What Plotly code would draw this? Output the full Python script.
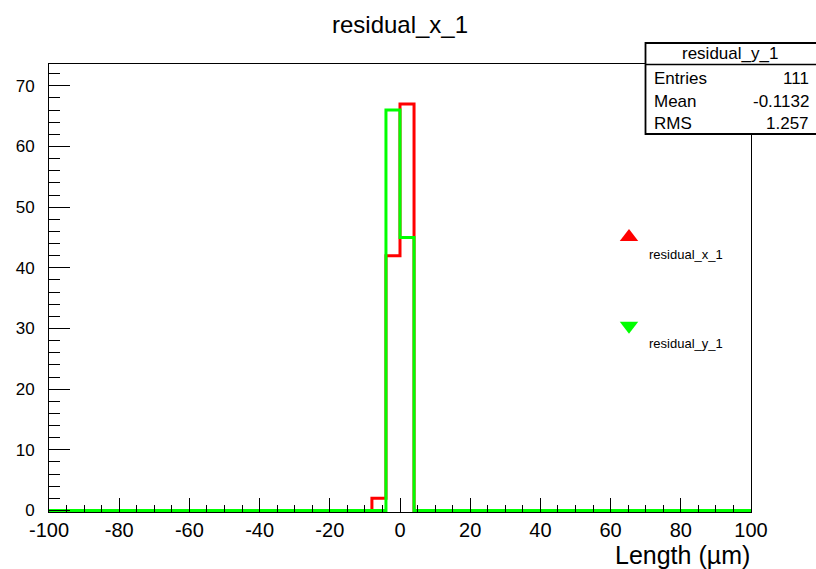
import numpy as np
import plotly.graph_objects as go

# ---- data ----
bin_edges = np.linspace(-100, 100, 51)  # 50 bins of width 4 um
counts_x = [0, 0, 0, 0, 0, 0, 0, 0, 0, 0,
            0, 0, 0, 0, 0, 0, 0, 0, 0, 0,
            0, 0, 0, 2, 42, 67, 0, 0, 0, 0,
            0, 0, 0, 0, 0, 0, 0, 0, 0, 0,
            0, 0, 0, 0, 0, 0, 0, 0, 0, 0]
counts_y = [0, 0, 0, 0, 0, 0, 0, 0, 0, 0,
            0, 0, 0, 0, 0, 0, 0, 0, 0, 0,
            0, 0, 0, 0, 66, 45, 0, 0, 0, 0,
            0, 0, 0, 0, 0, 0, 0, 0, 0, 0,
            0, 0, 0, 0, 0, 0, 0, 0, 0, 0]
x_ticks = [-100, -80, -60, -40, -20, 0, 20, 40, 60, 80, 100]
y_ticks = [0, 10, 20, 30, 40, 50, 60, 70]
series_names = ["residual_x_1", "residual_y_1"]
series_colors = ["#FF0000", "#00FF00"]
series_symbols = ["triangle-up", "triangle-down"]
stats_title = "residual_y_1"
stats_labels = ["Entries", "Mean", "RMS"]
stats_values = [str(int(sum(counts_y))), "-0.1132", "1.257"]
title_text = "residual_x_1"
x_title = "Length (µm)"

FONT = "Liberation Sans, Arial, Helvetica, sans-serif"

fig = go.Figure()

# histograms as step lines
for counts, name, color in zip([counts_x, counts_y], series_names, series_colors):
    xs = list(bin_edges)
    ys = list(counts) + [counts[-1]]
    fig.add_trace(go.Scatter(x=xs, y=ys, mode="lines", line_shape="hv",
                             line=dict(color=color, width=3),
                             showlegend=False, hoverinfo="skip"))

# legend entries (marker only)
for i, (name, color, sym) in enumerate(zip(series_names, series_colors, series_symbols)):
    fig.add_trace(go.Scatter(x=[None], y=[None], mode="markers", name="<br>" + name,
                             legendgroup=name,
                             marker=dict(symbol=sym, color=color, size=20,
                                         line=dict(width=0))))

# stats box (paper coordinates of plot area)
W, H = 816, 569
L, R, T, B = 49, 65, 64, 57
pw, ph = W - L - R, H - T - B

def px(x):
    return (x - L) / pw

def py(y):
    return (H - B - y) / ph

shapes = [
    dict(type="rect", xref="paper", yref="paper", x0=px(645.5), x1=px(830),
         y0=py(134), y1=py(43), line=dict(color="black", width=1.8),
         fillcolor="white", layer="above"),
    dict(type="line", xref="paper", yref="paper", x0=px(645.5), x1=px(830),
         y0=py(64.5), y1=py(64.5), line=dict(color="black", width=1.5), layer="above"),
]
annotations = [
    dict(text=stats_title, xref="paper", yref="paper", x=px(730), y=py(53),
         xanchor="center", yanchor="middle", showarrow=False,
         font=dict(family=FONT, size=17, color="black")),
]
row_y = [78, 101, 124]
for lab, val, yy in zip(stats_labels, stats_values, row_y):
    annotations.append(dict(text=lab, xref="paper", yref="paper", x=px(652), y=py(yy),
                            xanchor="left", yanchor="middle", showarrow=False,
                            font=dict(family=FONT, size=17, color="black")))
    annotations.append(dict(text=val, xref="paper", yref="paper", x=px(811), y=py(yy),
                            xanchor="right", yanchor="middle", showarrow=False,
                            font=dict(family=FONT, size=17, color="black")))
# x axis title
annotations.append(dict(text=x_title, xref="paper", yref="paper", x=px(752), y=0,
                        xanchor="right", yanchor="middle", yshift=-43, showarrow=False,
                        font=dict(family=FONT, size=25, color="black")))

fig.update_layout(
    width=W, height=H,
    margin=dict(l=L, r=R, t=T, b=B, pad=0),
    paper_bgcolor="white", plot_bgcolor="white",
    font=dict(family=FONT, color="black"),
    title=dict(text=title_text, x=px(400), xref="paper", xanchor="center",
               y=1 - 25 / H, yref="container", yanchor="middle",
               font=dict(family=FONT, size=24, color="black")),
    showlegend=True,
    legend=dict(x=px(609), y=py(222), xanchor="left", yanchor="top",
                bgcolor="rgba(0,0,0,0)", borderwidth=0, valign="top",
                tracegroupgap=52, font=dict(family=FONT, size=13, color="black")),
    shapes=shapes,
    annotations=annotations,
)
fig.update_xaxes(range=[-100, 100], tickmode="array", tickvals=x_ticks,
                 ticktext=[str(v) for v in x_ticks],
                 ticks="inside", ticklen=14, tickwidth=1, tickcolor="black",
                 minor=dict(tickmode="linear", tick0=-100, dtick=5, ticklen=7,
                            ticks="inside", tickcolor="black", tickwidth=1),
                 showline=True, linecolor="black", linewidth=1, mirror=True,
                 showgrid=False, zeroline=False,
                 tickfont=dict(family=FONT, size=20, color="black"))
fig.update_yaxes(range=[-0.25, 73.6], tickmode="array", tickvals=y_ticks,
                 ticktext=[str(v) for v in y_ticks],
                 ticks="inside", ticklen=21, tickwidth=1, tickcolor="black",
                 minor=dict(tickmode="linear", tick0=0, dtick=2, ticklen=11,
                            ticks="inside", tickcolor="black", tickwidth=1),
                 showline=True, linecolor="black", linewidth=1, mirror=True,
                 showgrid=False, zeroline=False, ticklabelstandoff=10,
                 tickfont=dict(family=FONT, size=17, color="black"))

fig.write_html("out.html")
